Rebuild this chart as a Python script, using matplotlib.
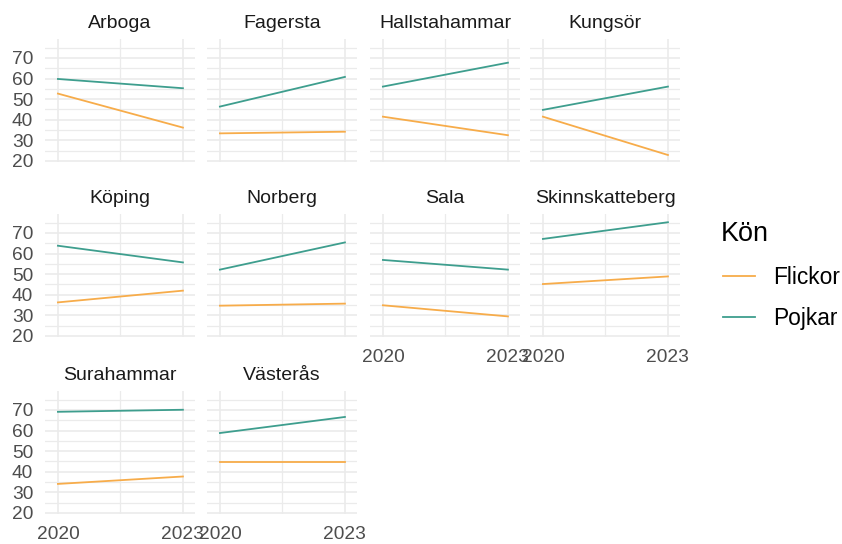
import matplotlib
matplotlib.use("Agg")
import matplotlib.pyplot as plt
from matplotlib.lines import Line2D

plt.rcParams['font.family'] = ['Liberation Sans', 'DejaVu Sans']

years = [2020, 2023]
kommuner = ["Arboga", "Fagersta", "Hallstahammar", "Kungsör",
            "Köping", "Norberg", "Sala", "Skinnskatteberg",
            "Surahammar", "Västerås"]
flickor = [[52.7, 36.2], [33.4, 34.2], [41.5, 32.5], [41.5, 22.9],
           [36.3, 42.0], [34.7, 35.7], [34.9, 29.5], [45.2, 48.9],
           [34.1, 37.7], [44.7, 44.7]]
pojkar = [[59.8, 55.3], [46.4, 60.8], [56.1, 67.7], [44.8, 56.1],
          [63.8, 55.7], [52.2, 65.4], [56.9, 52.2], [67.1, 75.2],
          [69.1, 70.1], [58.8, 66.6]]
y_ticks = [20, 30, 40, 50, 60, 70]
x_ticks = [2020, 2023]
series_names = ["Flickor", "Pojkar"]
colors = ["#F7AC4A", "#3E9E8E"]

W, H = 842, 544
fig = plt.figure(figsize=(W / 100, H / 100), dpi=100)

col_left = [45, 207, 370, 530]
panel_w = 150
row_top = [39, 214, 391]
panel_h = 123

xlim = (2019.69, 2023.29)
ylim = (19.5, 79.2)
grid_c = "#EBEBEB"
text_c = "#4D4D4D"

for i, name in enumerate(kommuner):
    r, c = divmod(i, 4)
    left = col_left[c]
    top = row_top[r]
    ax = fig.add_axes([left / W, 1 - (top + panel_h) / H, panel_w / W, panel_h / H])
    ax.set_xlim(*xlim)
    ax.set_ylim(*ylim)
    for s in ax.spines.values():
        s.set_visible(False)
    ax.set_xticks(x_ticks)
    ax.set_xticks([2021.5], minor=True)
    ax.set_yticks(y_ticks)
    ax.set_yticks([25, 35, 45, 55, 65, 75], minor=True)
    ax.grid(True, which='major', color=grid_c, lw=1.2)
    ax.grid(True, which='minor', color=grid_c, lw=0.9)
    ax.set_axisbelow(True)
    ax.tick_params(which='both', length=0)
    ax.tick_params(axis='x', labelsize=13.8, labelcolor=text_c, pad=8.5)
    ax.tick_params(axis='y', labelsize=13.8, labelcolor=text_c, pad=8.5)
    if c != 0:
        ax.set_yticklabels([])
    bottom_panel = (i + 4 >= len(kommuner))
    if not bottom_panel:
        ax.set_xticklabels([])
    else:
        ax.set_xticklabels([str(v) for v in x_ticks])
    ax.plot(years, flickor[i], color=colors[0], lw=1.3)
    ax.plot(years, pojkar[i], color=colors[1], lw=1.3)
    ax.set_title(name, fontsize=14, color="#1A1A1A", pad=8)

# legend
fig.text(721 / W, 1 - 234 / H, "Kön", fontsize=19.4, color="#000000", va='center', ha='left')
for k, (nm, col) in enumerate(zip(series_names, colors)):
    yy = 1 - (276 + 41 * k) / H
    fig.add_artist(Line2D([723 / W, 755 / W], [yy, yy], color=col, lw=1.3,
                          transform=fig.transFigure))
    fig.text(773 / W, yy - 1.5 / H, nm, fontsize=16.4, color="#000000", va='center', ha='left')

fig.savefig("out.png", dpi=100, facecolor="white")
